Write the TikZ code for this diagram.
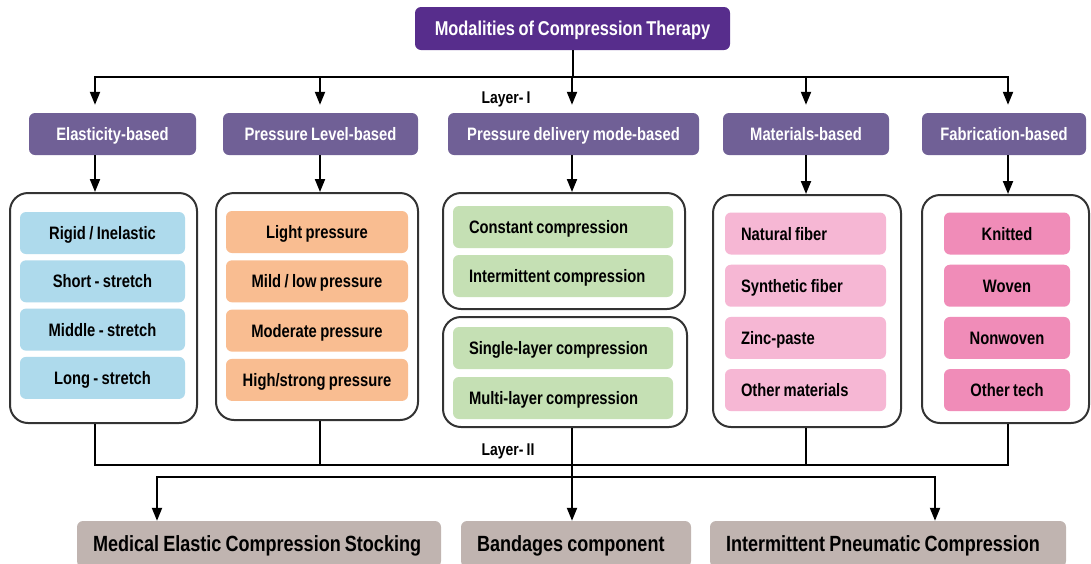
\documentclass[tikz,border=0pt]{standalone}
\usepackage{fontspec}
\setmainfont{Liberation Sans}[FakeStretch=0.82, WordSpace=0.82]
\usepackage{xcolor}
\usepackage{tikz}
\usetikzlibrary{arrows.meta, calc}
\definecolor{roxo}{RGB}{87,45,140}
\definecolor{lilas}{RGB}{112,96,150}
\definecolor{azulc}{RGB}{174,218,236}
\definecolor{laranja}{RGB}{249,189,145}
\definecolor{verdec}{RGB}{197,224,180}
\definecolor{rosa}{RGB}{246,183,212}
\definecolor{rosaf}{RGB}{240,140,184}
\definecolor{cinza}{RGB}{192,180,176}
\definecolor{borda}{RGB}{51,51,51}

\begin{document}
\begin{tikzpicture}[x=1pt, y=-1pt,
    titulo/.style={rounded corners=6pt, fill=roxo, text=white, minimum width=315pt, minimum height=43pt, inner sep=0pt, text height=14.3pt, text depth=0pt, font=\fontsize{20}{22}\selectfont\bfseries},
    categoria/.style={rounded corners=6pt, fill=lilas, text=white, minimum height=42pt, inner sep=0pt, text height=13pt, text depth=0pt, font=\fontsize{18}{20}\selectfont\bfseries},
    grupo/.style={rounded corners=18pt, draw=borda, line width=2pt, fill=white, inner sep=0pt},
    opcao/.style={rounded corners=6pt, minimum height=42pt, inner sep=0pt, text height=13pt, text depth=0pt, font=\fontsize{18}{20}\selectfont\bfseries},
    opcaoE/.style={opcao, inner xsep=16pt},
    saida/.style={rounded corners=6pt, fill=cinza, minimum height=46pt, inner xsep=16pt, inner ysep=0pt, text height=15.7pt, text depth=0pt, font=\fontsize{22}{24}\selectfont\bfseries},
    linha/.style={line width=2pt, black},
    seta/.style={linha, -{Triangle[length=13pt, width=10pt]}},
    camada/.style={inner sep=0pt, font=\fontsize{17}{19}\selectfont\bfseries}
  ]
    \useasboundingbox (0,0) rectangle (1091,563);

    % topo e categorias (Layer I)
    \node[titulo] (topo) at (572.5,28.5) {Modalities of Compression Therapy};
    \node[categoria, minimum width=167pt] (elast) at (112.5,134) {Elasticity-based};
    \node[categoria, minimum width=195pt] (pressao) at (320.5,134) {Pressure Level-based};
    \node[categoria, minimum width=251pt] (modo) at (573.5,134) {Pressure delivery mode-based};
    \node[categoria, minimum width=166pt] (mater) at (806,134) {Materials-based};
    \node[categoria, minimum width=164pt] (fabr) at (1004,134) {Fabrication-based};
    \node[camada] (camada1) at (506,99) {Layer- I};

    % grupos
    \node[grupo, minimum width=187pt, minimum height=230pt] (gelast) at (103.5,308) {};
    \node[grupo, minimum width=202pt, minimum height=227pt] (gpressao) at (317,306.5) {};
    \node[grupo, minimum width=242pt, minimum height=116pt] (gmodo) at (564,251) {};
    \node[grupo, minimum width=244pt, minimum height=110pt] (gmodoB) at (565,372) {};
    \node[grupo, minimum width=188pt, minimum height=232pt] (gmater) at (807,311) {};
    \node[grupo, minimum width=167pt, minimum height=228pt] (gfabr) at (1005.5,309) {};

    % itens
    \foreach \txt [count=\i] in {Rigid / Inelastic, Short - stretch, Middle - stretch, Long - stretch}
      \node[opcao, fill=azulc, minimum width=165pt] (elast\i) at (102.5,{233+48.3*(\i-1)}) {\txt};
    \foreach \txt [count=\i] in {Light pressure, Mild / low pressure, Moderate pressure, High/strong pressure}
      \node[opcao, fill=laranja, minimum width=182pt] (pressao\i) at (317,{232+49.3*(\i-1)}) {\txt};
    \foreach \txt/\y [count=\i] in {Constant compression/227, Intermittent compression/276, Single-layer compression/348, Multi-layer compression/398}
      \node[opcaoE, fill=verdec] (modo\i) at (563,\y) {\makebox[188pt][l]{\txt}};
    \foreach \txt [count=\i] in {Natural fiber, Synthetic fiber, Zinc-paste, Other materials}
      \node[opcaoE, fill=rosa] (mater\i) at (805.5,{233.5+52.2*(\i-1)}) {\makebox[129pt][l]{\txt}};
    \foreach \txt [count=\i] in {Knitted, Woven, Nonwoven, Other tech}
      \node[opcao, fill=rosaf, minimum width=126pt] (fabr\i) at (1007,{233.5+52.2*(\i-1)}) {\txt};

    % saidas (Layer II)
    \node[camada] (camada2) at (508,451) {Layer- II};
    \node[saida] (medic) at (259,544) {\makebox[332pt][l]{Medical Elastic Compression Stocking}};
    \node[saida] (band) at (576,544) {\makebox[198pt][l]{Bandages component}};
    \node[saida] (ipc) at (888,544) {\makebox[324pt][l]{Intermittent Pneumatic Compression}};

    % conectores
    \coordinate (c1) at (95,0);
    \coordinate (c2) at (320,0);
    \coordinate (c3) at (572,0);
    \coordinate (c4) at (806,0);
    \coordinate (c5) at (1008,0);
    \coordinate (c6) at (157,0);
    \coordinate (c7) at (935,0);
    \coordinate (barraA) at (0,77);
    \coordinate (barraB) at (0,465);
    \coordinate (barraC) at (0,477);

    \draw[linha] (topo.south) -- (topo.south |- barraA);
    \draw[seta, shorten >=8pt] (topo.south |- barraA) -| (c1 |- elast.north);
    \draw[seta, shorten >=8pt] (topo.south |- barraA) -| (c5 |- fabr.north);
    \foreach \c/\n in {c2/pressao, c3/modo, c4/mater}
      \draw[seta, shorten >=8pt] (\c |- barraA) -- (\c |- \n.north);
    \foreach \c/\n in {c1/elast, c2/pressao, c3/modo, c4/mater, c5/fabr}
      \draw[seta] (\c |- \n.south) -- (\c |- g\n.north);

    \draw[linha] (c1 |- gelast.south) |- (c3 |- barraB);
    \draw[linha] (c5 |- gfabr.south) |- (c3 |- barraB);
    \draw[linha] (c2 |- gpressao.south) -- (c2 |- barraB);
    \draw[linha] (c4 |- gmater.south) -- (c4 |- barraB);
    \draw[seta] (c3 |- gmodoB.south) -- (c3 |- band.north);
    \draw[seta] (c3 |- barraC) -| (c6 |- medic.north);
    \draw[seta] (c3 |- barraC) -| (c7 |- ipc.north);
  \end{tikzpicture}
\end{document}
